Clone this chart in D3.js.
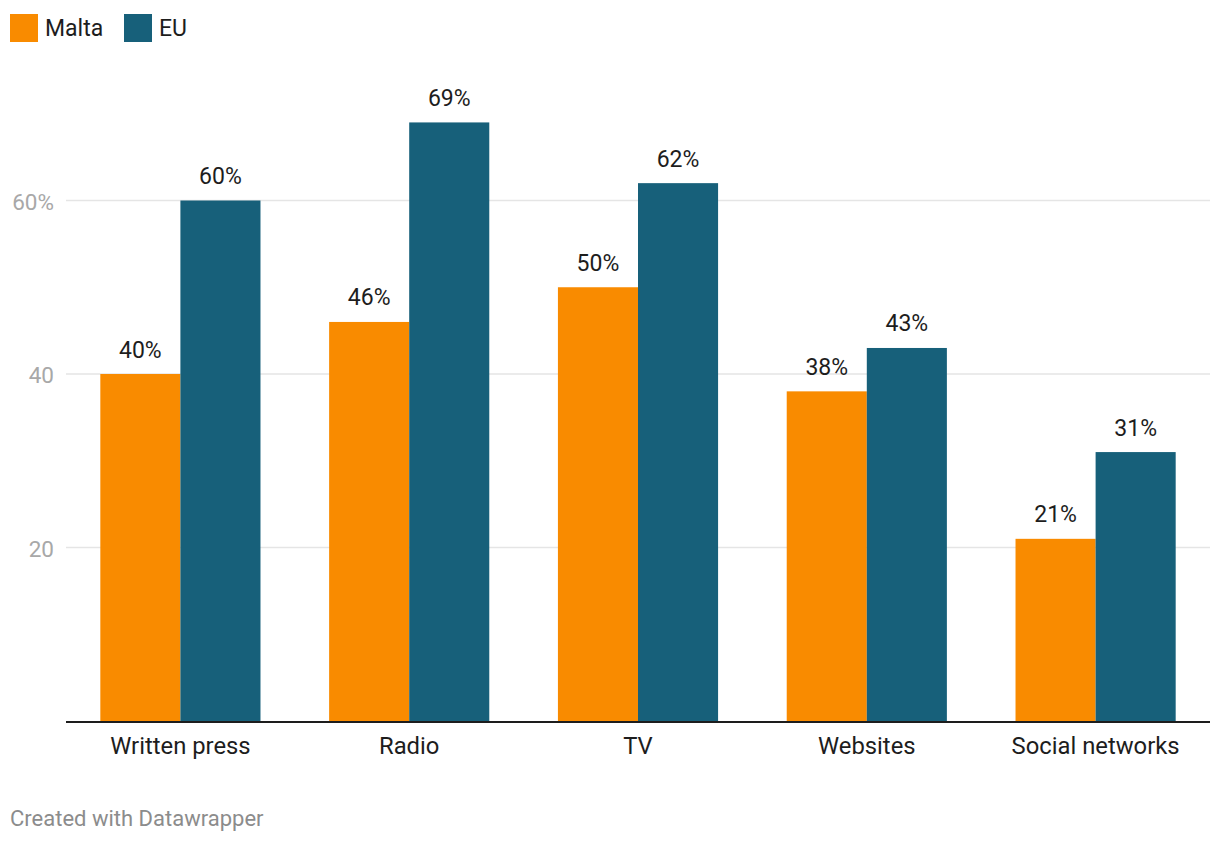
<!DOCTYPE html>
<html><head><meta charset="utf-8">
<script src="https://cdn.jsdelivr.net/npm/d3@7"></script>
<style>body{margin:0;background:#fff;} text{font-family:Roboto,"Noto Sans",sans-serif;}</style>
</head><body>
<svg id="c" width="1220" height="844"></svg>
<script>
const categories = ["Written press","Radio","TV","Websites","Social networks"];
const seriesNames = ["Malta","EU"];
const malta = [40,46,50,38,21];
const eu = [60,69,62,43,31];
const yTicks = [20,40,60];
const colors = ["#f98b00","#17607a"];

const svg = d3.select("#c");
const x0 = d3.scaleBand().domain(categories).range([66,1210]).paddingInner(0.3).paddingOuter(0.15);
const x1 = d3.scaleBand().domain(seriesNames).range([0,x0.bandwidth()]);
const y = d3.scaleLinear().domain([0,60]).range([721,200.5]);
const color = d3.scaleOrdinal().domain(seriesNames).range(colors);

// grid
svg.append("g").selectAll("line").data(yTicks).join("line")
  .attr("x1",66).attr("x2",1210).attr("y1",d=>y(d)).attr("y2",d=>y(d))
  .attr("stroke","#e5e5e5").attr("stroke-width",1.5);
svg.append("g").selectAll("text").data(yTicks).join("text")
  .attr("x",54).attr("y",d=>y(d)).attr("dy","0.42em").attr("text-anchor","end")
  .attr("font-size",22.5).attr("fill","#a8a8a8").text(d=>d===60?d+"%":d);

const data = categories.map((c,i)=>({c, vals:[{s:"Malta",v:malta[i]},{s:"EU",v:eu[i]}]}));
const g = svg.append("g").selectAll("g").data(data).join("g").attr("transform",d=>`translate(${x0(d.c)},0)`);
g.selectAll("rect").data(d=>d.vals).join("rect")
  .attr("x",d=>x1(d.s)).attr("width",x1.bandwidth())
  .attr("y",d=>y(d.v)).attr("height",d=>y(0)-y(d.v)).attr("fill",d=>color(d.s));
g.selectAll("text").data(d=>d.vals).join("text")
  .attr("x",d=>x1(d.s)+x1.bandwidth()/2).attr("y",d=>y(d.v)-16.5)
  .attr("text-anchor","middle").attr("font-size",23).attr("fill","#1d1d1d").text(d=>d.v+"%");

// baseline
svg.append("line").attr("x1",66).attr("x2",1210).attr("y1",y(0)+1).attr("y2",y(0)+1)
  .attr("stroke","#1d1d1d").attr("stroke-width",2);
// x labels
svg.append("g").selectAll("text").data(categories).join("text")
  .attr("x",d=>x0(d)+x0.bandwidth()/2).attr("y",753.5).attr("text-anchor","middle")
  .attr("font-size",23.8).attr("fill","#1d1d1d").text(d=>d);

// legend
const lg = svg.append("g");
const lx = [10,124];
seriesNames.forEach((s,i)=>{
  lg.append("rect").attr("x",lx[i]).attr("y",14).attr("width",28).attr("height",28).attr("fill",color(s));
  lg.append("text").attr("x",lx[i]+35).attr("y",35.5).attr("font-size",23).attr("fill","#1d1d1d").text(s);
});

svg.append("text").attr("x",10).attr("y",825.5).attr("font-size",22).attr("fill","#8c8c8c").text("Created with Datawrapper");
</script>
</body></html>
